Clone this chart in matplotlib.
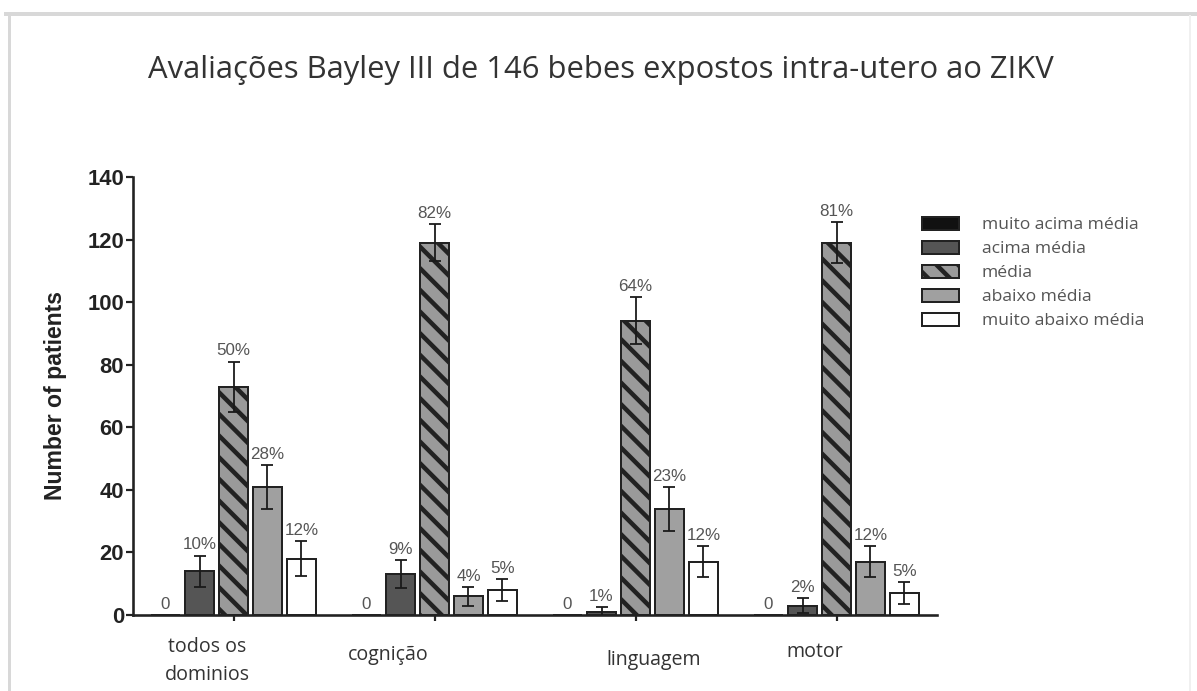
import matplotlib
matplotlib.use("Agg")
import matplotlib.pyplot as plt
import numpy as np
from matplotlib.lines import Line2D

# ---- data ----
groups = ["todos os\ndominios", "cognição", "linguagem", "motor"]
series = ["muito acima média", "acima média", "média", "abaixo média", "muito abaixo média"]
muito_acima = [0, 0, 0, 0]
acima = [14, 13, 1, 3]
media = [73, 119, 94, 119]
abaixo = [41, 6, 34, 17]
muito_abaixo = [18, 8, 17, 7]

err_muito_acima = [0, 0, 0, 0]
err_acima = [5, 4.5, 1.5, 2.5]
err_media = [8, 6, 7.5, 6.5]
err_abaixo = [7, 3, 7, 5]
err_muito_abaixo = [5.5, 3.5, 5, 3.5]

lbl_muito_acima = ["0", "0", "0", "0"]
lbl_acima = ["10%", "9%", "1%", "2%"]
lbl_media = ["50%", "82%", "64%", "81%"]
lbl_abaixo = ["28%", "4%", "23%", "12%"]
lbl_muito_abaixo = ["12%", "5%", "12%", "5%"]

yticks = [0, 20, 40, 60, 80, 100, 120, 140]

values = [muito_acima, acima, media, abaixo, muito_abaixo]
errors = [err_muito_acima, err_acima, err_media, err_abaixo, err_muito_abaixo]
labels = [lbl_muito_acima, lbl_acima, lbl_media, lbl_abaixo, lbl_muito_abaixo]

# ---- style ----
DPI = 130
def pt(px):
    return px * 72.0 / DPI

plt.rcParams['hatch.linewidth'] = pt(4.5)
plt.rcParams['hatch.color'] = '#111111'

faces = ['#111111', '#555555', '#9a9a9a', '#a0a0a0', '#ffffff']
hatches = [None, None, '\\\\', None, None]

fig = plt.figure(figsize=(1197 / DPI, 691 / DPI), dpi=DPI)
ax = fig.add_axes([133 / 1197, 1 - 615 / 691, (937 - 133) / 1197, (615 - 177) / 691])

x = np.arange(len(groups))
step = 0.169
width = 0.145
for k, (vals, errs, lbls) in enumerate(zip(values, errors, labels)):
    pos = x + (k - 2) * step
    ax.bar(pos, vals, width, color=faces[k], edgecolor='#222222',
           linewidth=pt(2.0), hatch=hatches[k], label=series[k], zorder=2)
    for p, v, e, l in zip(pos, vals, errs, lbls):
        if e > 0:
            ax.errorbar(p, v, yerr=e, fmt='none', ecolor='#1a1a1a',
                        elinewidth=pt(1.8), capsize=pt(6), capthick=pt(1.8), zorder=3)
        ax.text(p, v + e + 1.0, l, ha='center', va='bottom',
                fontsize=pt(17), color='#555555', family='Liberation Sans', zorder=4)

ax.set_xlim(-0.5, 3.5)
ax.set_ylim(0, 140)
ax.set_yticks(yticks)
ax.set_yticklabels([str(t) for t in yticks], fontsize=pt(22), fontweight='bold',
                   family='Liberation Sans', color='#222222')
ax.set_xticks(x)
ax.set_xticklabels([])
ax.tick_params(axis='y', length=pt(7), width=pt(2.2), pad=pt(2), color='#222222')
ax.tick_params(axis='x', length=pt(6), width=pt(2.2), color='#222222')
for s in ['top', 'right']:
    ax.spines[s].set_visible(False)
for s in ['left', 'bottom']:
    ax.spines[s].set_linewidth(pt(2.6))
    ax.spines[s].set_color('#222222')

# category labels (slightly irregular placement as in the source)
label_dx = [-0.13, -0.23, 0.09, -0.11]
label_dy = [-14.8, -12.8, -14.3, -11.8]
for xi, g, dx, dy in zip(x, groups, label_dx, label_dy):
    ax.text(xi + dx, dy, g, ha='center', va='center', fontsize=pt(19.5),
            family='Open Sans', color='#333333', linespacing=1.55, clip_on=False)

ax.set_ylabel("Number of patients", fontsize=pt(23), fontweight='bold',
              family='Liberation Sans', color='#222222', labelpad=pt(20))

fig.text(601 / 1197, 1 - 70 / 691,
         "Avaliações Bayley III de 146 bebes expostos intra-utero ao ZIKV",
         ha='center', va='center', fontsize=pt(31), family='Open Sans', color='#333333')

leg = fig.legend(loc='upper left', bbox_to_anchor=(922 / 1197, 1 - 217 / 691),
                 frameon=False, handlelength=2.1, handleheight=0.74,
                 labelspacing=0.43, handletextpad=1.3, borderpad=0, borderaxespad=0,
                 prop={'family': 'Open Sans', 'size': pt(17.5)})
for t in leg.get_texts():
    t.set_color('#555555')

# outer frame
fig.add_artist(Line2D([6 / 1197, 1], [1 - 14 / 691, 1 - 14 / 691], color='#d8d8d8',
                      lw=pt(4), transform=fig.transFigure))
fig.add_artist(Line2D([9 / 1197, 9 / 1197], [0, 1 - 14 / 691], color='#d8d8d8',
                      lw=pt(3), transform=fig.transFigure))
fig.add_artist(Line2D([1190 / 1197, 1190 / 1197], [0, 1 - 16 / 691], color='#f0f0f0',
                      lw=pt(2), transform=fig.transFigure))

fig.savefig("out.png", dpi=DPI)
